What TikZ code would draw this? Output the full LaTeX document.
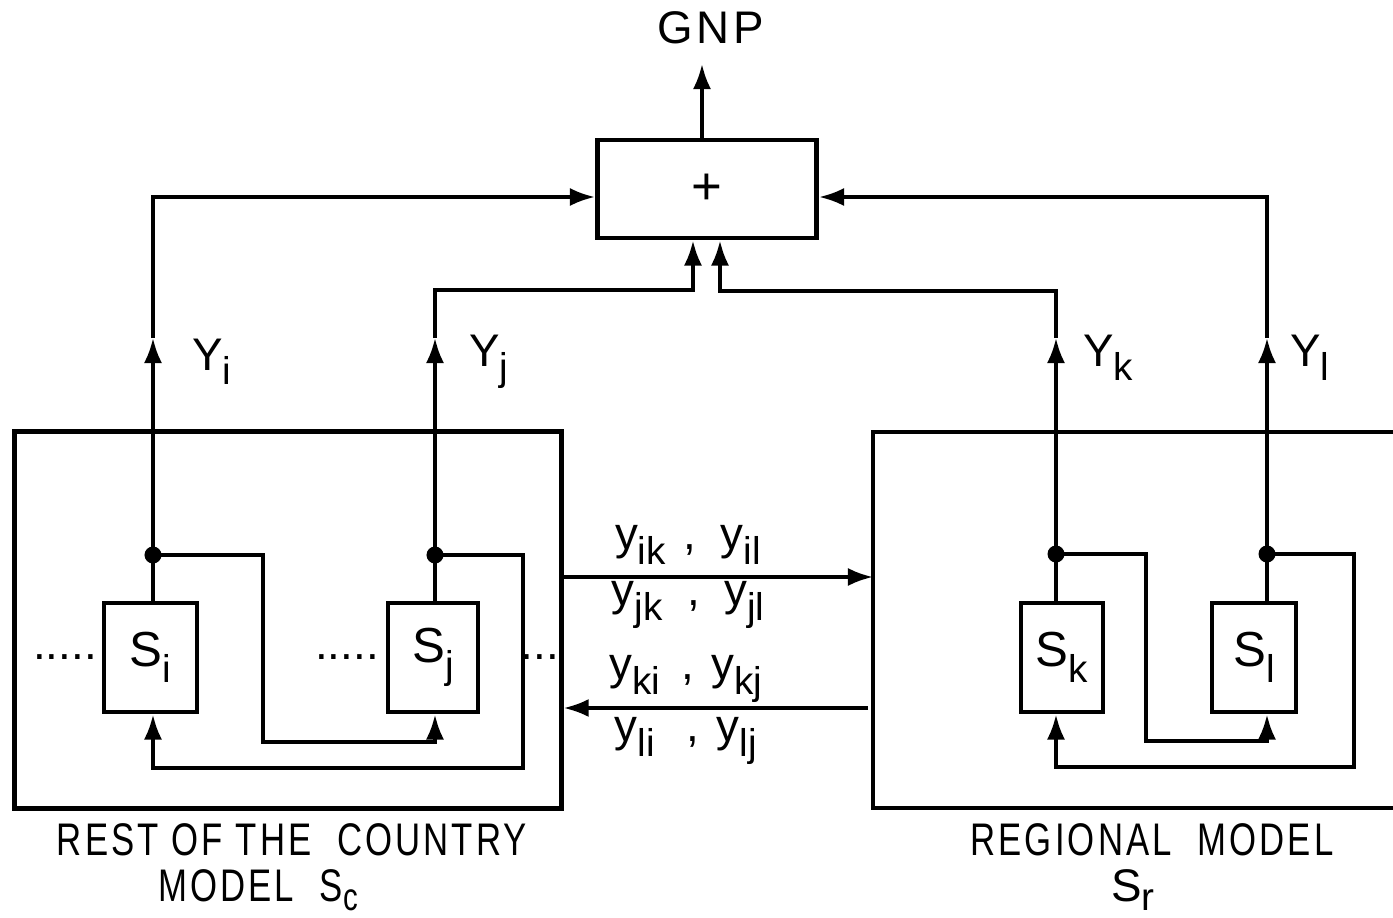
\documentclass[tikz,border=0pt]{standalone}
\usepackage{fontspec}
\setmainfont{Liberation Sans}
\usetikzlibrary{arrows.meta}
\newcommand\lowsub[1]{\raisebox{-0.6ex}{\fontsize{11pt}{13pt}\selectfont #1}}
\newcommand\capsub[1]{\raisebox{-0.4ex}{\fontsize{11pt}{13pt}\selectfont #1}}
\newcommand\cond[1]{\scalebox{0.76}[1]{\addfontfeatures{LetterSpace=9}#1}}
\begin{document}
\begin{tikzpicture}[x=0.01cm,y=-0.01cm,
  thin/.style={line width=1pt},
  box/.style={draw, line width=1.4pt, inner sep=0pt},
  arr/.style={line width=1pt, -{Latex[length=2.5mm,width=1.8mm]}},
  jdot/.style={circle, fill, inner sep=0pt, minimum size=1.7mm},
  lbl/.style={font=\fontsize{13pt}{15pt}\selectfont, inner sep=0pt},
  sbox/.style={box, minimum height=1.09cm, font=\fontsize{14pt}{16pt}\selectfont},
  ]
\useasboundingbox (0,0) rectangle (1393,918);

% summation block and output
\node[box, minimum width=2.19cm, minimum height=0.98cm, font=\fontsize{15pt}{17pt}\selectfont] (sum) at (707,189) {+};
\node[lbl, font=\fontsize{13pt}{15pt}\selectfont\addfontfeatures{LetterSpace=8}] (gnp) at (711,28) {GNP};
\coordinate (gnptip) at (702,64);
\draw[arr] (sum.north -| gnptip) -- (gnptip);

% large model boxes
\node[box, minimum width=5.46cm, minimum height=3.76cm] (rest) at (288,620) {};
\coordinate (rtr) at (1393,432);
\coordinate (rtl) at (873,432);
\coordinate (rbl) at (873,808);
\coordinate (rbr) at (1393,808);
\draw[line width=1.4pt] (rtr) -- (rtl) -- (rbl) -- (rbr);

% sub-models
\node[sbox, minimum width=0.93cm] (si) at (150.5,657.5) {S\lowsub{i}};
\node[sbox, minimum width=0.90cm] (sj) at (433,657.5) {S\lowsub{j}};
\node[sbox, minimum width=0.82cm] (sk) at (1062,657.5) {S\lowsub{k}};
\node[sbox, minimum width=0.84cm] (sl) at (1254,657.5) {S\lowsub{l}};

% junctions
\coordinate (di) at (153,555);
\coordinate (dj) at (435,555);
\coordinate (dk) at (1056,554);
\coordinate (dl) at (1267,554);
\node[jdot] (doti) at (di) {};
\node[jdot] (dotj) at (dj) {};
\node[jdot] (dotk) at (dk) {};
\node[jdot] (dotl) at (dl) {};
\draw[thin] (si.north -| di) -- (di);
\draw[thin] (sj.north -| dj) -- (dj);
\draw[thin] (sk.north -| dk) -- (dk);
\draw[thin] (sl.north -| dl) -- (dl);

% outputs Y
\coordinate (ai) at (153,338);
\coordinate (aj) at (435,338);
\coordinate (ak) at (1056,338);
\coordinate (al) at (1267,338);
\draw[arr] (di) -- (ai);
\draw[arr] (dj) -- (aj);
\draw[arr] (dk) -- (ak);
\draw[arr] (dl) -- (al);
\coordinate (bj) at (693,290);
\coordinate (bk) at (720,291);
\draw[arr] (ai) |- ([yshift=-0.08cm]sum.west);
\draw[arr] (al) |- ([yshift=-0.08cm]sum.east);
\draw[arr] (aj) |- (bj) -- (bj |- sum.south);
\draw[arr] (ak) |- (bk) -- (bk |- sum.south);
\node[lbl] (yi) at (212,362) {Y\lowsub{i}};
\node[lbl] (yj) at (489,362) {Y\lowsub{j}};
\node[lbl] (yk) at (1108,358) {Y\lowsub{k}};
\node[lbl] (yl) at (1310,358) {Y\lowsub{l}};

% feedback loops
\coordinate (li) at (263,742);
\coordinate (lj) at (523,768);
\coordinate (lk) at (1146,741);
\coordinate (ll) at (1354,767);
\draw[arr] (di) -| (li) -| (sj.south -| dj);
\draw[arr] (dj) -| (lj) -| (si.south -| di);
\draw[arr] (dk) -| (lk) -| (sl.south -| dl);
\draw[arr] (dl) -| (ll) -| (sk.south -| dk);

% dots
\node[lbl, anchor=base] (dots1) at (65,659) {.....};
\node[lbl, anchor=base] (dots2) at (347,659) {.....};
\node[lbl, anchor=base] (dots3) at (540,659) {...};

% interaction flows
\coordinate (m1) at (0,577);
\coordinate (m2) at (868,708);
\draw[arr] (rest.east |- m1) -- (rtl |- m1);
\draw[arr] (m2) -- (rest.east |- m2);
\node[lbl] (f1) at (688,545) {y\lowsub{ik}\hspace{5pt},\hspace{7pt}y\lowsub{il}};
\node[lbl] (f2) at (688,605) {y\lowsub{jk}\hspace{7pt},\hspace{7pt}y\lowsub{jl}};
\node[lbl] (f3) at (686,679) {y\lowsub{ki}\hspace{6pt},\hspace{5pt}y\lowsub{kj}};
\node[lbl] (f4) at (686,741) {y\lowsub{li}\hspace{9pt},\hspace{5pt}y\lowsub{lj}};

% captions
\node[lbl, anchor=base] (restlbl) at (292,855) {\cond{REST OF THE\ \ COUNTRY}};
\node[lbl, anchor=base] (restlbl2) at (258,901) {\cond{MODEL\ \ S\capsub{c}}};
\node[lbl, anchor=base] (reglbl) at (1152,855) {\cond{REGIONAL\ \ MODEL}};
\node[lbl, anchor=base] (reglbl2) at (1133,901) {S\capsub{r}};
\end{tikzpicture}
\end{document}
